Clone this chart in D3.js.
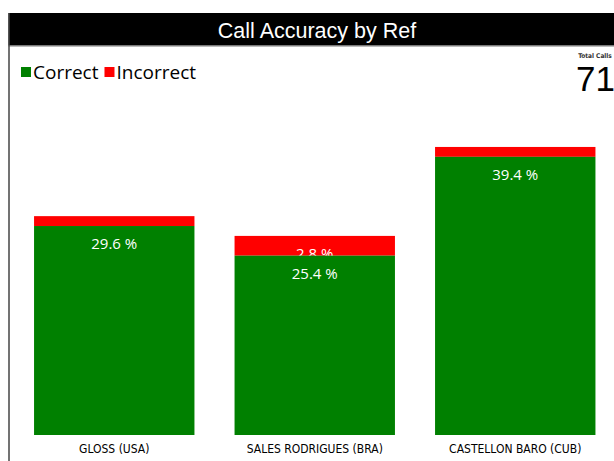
<!DOCTYPE html>
<html>
<head>
<meta charset="utf-8">
<script src="https://cdn.jsdelivr.net/npm/d3@7"></script>
<style>
  html, body { margin: 0; padding: 0; background: #fff; overflow: hidden; }
  svg { display: block; }
</style>
</head>
<body>
<svg id="chart"></svg>
<script>
// data (percent of total calls)
const refs = ["GLOSS (USA)", "SALES RODRIGUES (BRA)", "CASTELLON BARO (CUB)"];
const correct = [29.6, 25.4, 39.4];
const incorrect = [1.4, 2.8, 1.4];
const seriesNames = ["Correct", "Incorrect"];
const seriesColors = ["#008000", "#ff0000"];
const totalCalls = 71;

const width = 614, height = 461;
const svg = d3.select("#chart").attr("width", width).attr("height", height);

// frame + title bar
svg.append("rect").attr("x", 8.5).attr("y", 13).attr("width", 640).attr("height", 32.5).attr("fill", "#000");
svg.append("line").attr("x1", 8.5).attr("x2", 640).attr("y1", 46).attr("y2", 46).attr("stroke", "#777").attr("stroke-width", 1);
svg.append("line").attr("x1", 9).attr("x2", 9).attr("y1", 13).attr("y2", height).attr("stroke", "#444").attr("stroke-width", 1.5);
svg.append("text").attr("x", 317).attr("y", 38)
    .attr("text-anchor", "middle").attr("fill", "#fff")
    .attr("font-family", "'Liberation Sans', Arial, sans-serif").attr("font-size", "21.5px")
    .text("Call Accuracy by Ref");

// legend
const legend = svg.append("g").attr("font-family", "'Open Sans', sans-serif").attr("font-size", "19px");
let lx = 21;
seriesNames.forEach((name, i) => {
    legend.append("rect").attr("x", lx).attr("y", 67).attr("width", 10).attr("height", 10).attr("fill", seriesColors[i]);
    const t = legend.append("text").attr("x", lx + 12).attr("y", 79).attr("fill", "#000").text(name);
    lx += 12 + t.node().getComputedTextLength() + 6;
});

// total calls card
svg.append("text").attr("x", 595).attr("y", 57.5).attr("text-anchor", "middle")
    .attr("font-family", "'DejaVu Sans Condensed', sans-serif").attr("font-size", "6.5px").attr("font-weight", "bold")
    .attr("fill", "#333").text("Total Calls");
svg.append("text").attr("x", 576).attr("y", 91)
    .attr("font-family", "'Liberation Sans', Arial, sans-serif").attr("font-size", "35px")
    .attr("fill", "#000").text(totalCalls);

// scales
const x = d3.scaleBand().domain(refs).range([14, 615.5]).paddingInner(0.2).paddingOuter(0.1);
const y = d3.scaleLinear().domain([0, 45]).range([435, 117.3]);

const rows = refs.map((r, i) => ({ ref: r, correct: correct[i], incorrect: incorrect[i] }));

// incorrect segment (stacked on top), drawn first so the green bar covers its label
svg.selectAll(".bad").data(rows).enter().append("rect")
    .attr("x", d => x(d.ref)).attr("width", x.bandwidth())
    .attr("y", d => y(d.correct + d.incorrect))
    .attr("height", d => y(d.correct) - y(d.correct + d.incorrect))
    .attr("fill", seriesColors[1]);
// thin segments have no room for a label
svg.selectAll(".bad-label").data(rows.filter(d => y(d.correct) - y(d.correct + d.incorrect) > 15)).enter().append("text")
    .attr("x", d => x(d.ref) + x.bandwidth() / 2)
    .attr("y", d => y(d.correct + d.incorrect) + 23)
    .attr("text-anchor", "middle").attr("fill", "#fff")
    .attr("font-family", "'Open Sans', sans-serif").attr("font-size", "15px")
    .text(d => d.incorrect.toFixed(1) + " %");

svg.selectAll(".good").data(rows).enter().append("rect")
    .attr("x", d => x(d.ref)).attr("width", x.bandwidth())
    .attr("y", d => y(d.correct))
    .attr("height", d => y(0) - y(d.correct))
    .attr("fill", seriesColors[0]);
svg.selectAll(".good-label").data(rows).enter().append("text")
    .attr("x", d => x(d.ref) + x.bandwidth() / 2)
    .attr("y", d => y(d.correct) + 23)
    .attr("text-anchor", "middle").attr("fill", "#fff")
    .attr("font-family", "'Open Sans', sans-serif").attr("font-size", "15px")
    .text(d => d.correct.toFixed(1) + " %");

// category axis
const xAxis = svg.append("g").attr("transform", `translate(0,${y(0)})`)
    .call(d3.axisBottom(x).tickSize(0).tickPadding(9));
xAxis.select(".domain").remove();
xAxis.selectAll("text")
    .attr("font-family", "'DejaVu Sans Condensed', Tahoma, sans-serif").attr("font-size", "12px")
    .attr("fill", "#000");
</script>
</body>
</html>
